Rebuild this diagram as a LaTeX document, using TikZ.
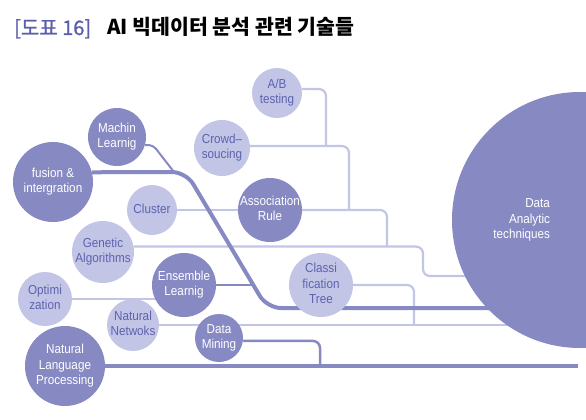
\documentclass[tikz,border=0pt]{standalone}
\usepackage{fontspec}
\setmainfont[FakeStretch=0.9]{Liberation Sans}
\newfontfamily\krfont{Noto Sans CJK KR}
\newfontfamily\krmed[FakeBold=1.2]{Noto Sans CJK KR}
\usetikzlibrary{backgrounds}
\definecolor{dk}{HTML}{8789C3}
\definecolor{lt}{HTML}{C3C5E6}
\definecolor{lttext}{HTML}{5D62AE}
\definecolor{ttl}{HTML}{5B5FAA}
\newcommand\cc[1]{\vbox to 0pt{\vss\hbox to 0pt{\hss\begin{tabular}{@{}c@{}}#1\end{tabular}\hss}\vss}}
\newcommand\rr[1]{\vbox to 0pt{\vss\hbox to 0pt{\hss\begin{tabular}{@{}r@{}}#1\end{tabular}\hskip30pt}\vss}}
\begin{document}
\begin{tikzpicture}[x=1pt,y=-1pt,
  ball/.style={circle,inner sep=0pt,minimum size=#1,font=\fontsize{13}{15.5}\selectfont},
  dball/.style={ball=#1,fill=dk,text=white},
  lball/.style={ball=#1,fill=lt,text=lttext},
  lline/.style={draw=lt,line width=2.2pt},
  dline/.style={draw=dk,line width=2pt},
  dmline/.style={draw=dk,line width=2.5pt},
  nlpline/.style={draw=dk,line width=3.5pt},
  mainline/.style={draw=dk,line width=4pt}
]
\useasboundingbox (0,0) rectangle (586,420);

% title
\node[font=\krmed\fontsize{20}{22}\selectfont,anchor=base west,inner sep=0pt,text=ttl] (t1) at (14,35) {[도표 16]};
\node[font=\krfont\bfseries\fontsize{20.5}{22}\selectfont,anchor=base west,inner sep=0pt,text=black] (t2) at (107,35) {AI 빅데이터 분석 관련 기술들};

% circles
\node[lball=50pt] (ab) at (277,93) {\cc{A/B\\testing}};
\node[lball=56pt] (cr) at (222,148) {\cc{Crowd–\\soucing}};
\node[dball=58pt] (ml) at (117,137) {\cc{Machin\\Learnig}};
\node[dball=80pt] (fu) at (53,182) {\cc{fusion \&\\intergration}};
\node[lball=50pt] (cl) at (152,210) {\cc{Cluster}};
\node[dball=64pt] (ar) at (270,210) {\cc{Association\\Rule}};
\node[lball=62pt] (ga) at (103,252) {\cc{Genetic\\Algorithms}};
\node[dball=64pt] (en) at (184,285) {\cc{Ensemble\\Learnig}};
\node[lball=54pt] (op) at (45,299) {\cc{Optimi\\zation}};
\node[lball=52pt] (nn) at (133,325) {\cc{Natural\\Netwoks}};
\node[dball=48pt] (dm) at (219,338) {\cc{Data\\Mining}};
\node[dball=80pt] (nlp) at (65,366) {\cc{Natural\\Language\\Processing}};
\node[lball=64pt] (ct) at (321,285) {\cc{Classi\\fication\\Tree}};
\node[dball=256pt] (da) at (580,220) {\rr{Data\\Analytic\\techniques}};

% junctions
\coordinate (jab) at (326,146);
\coordinate (jcr) at (349,210);
\coordinate (jar) at (387,247);
\coordinate (gc) at (423,276);
\coordinate (gend) at (500,276);
\coordinate (jct) at (414,325);
\coordinate (nnend) at (520,325);
\coordinate (jen) at (253,285);
\coordinate (jdm) at (320,366);
\coordinate (nlpend) at (578,366);
\coordinate (c1) at (186,172);
\coordinate (c2) at (267,308);
\coordinate (thend) at (520,308);
\coordinate (mlc) at (153,145);
\coordinate (jml) at (174,172);

\begin{scope}[on background layer]
  \begin{scope}[rounded corners=7pt]
    \draw[lline] (ab.9) -| (jab);
    \draw[lline] (cr.4) -| (jcr);
    \draw[lline] (cl.east) -- (ar.west);
    \draw[lline] (ar.east) -| (jar);
    \draw[lline] (ga.10) -| (gc) -- (gend);
    \draw[lline] (ct.east) -| (jct);
    \draw[lline] (nn.east) -- (nnend);
    \draw[lline] (op.east) -- (op.east -| en.center);
    \draw[dline] (en.east) -- (jen);
    \draw[dmline] (dm.-7) -| (jdm);
    \draw[nlpline] (nlp.east) -- (nlpend);
  \end{scope}
  \draw[mainline,rounded corners=14pt] (fu.14) -- (c1) -- (c2) -- (thend);
  \draw[dline,rounded corners=5pt] (ml.-16) -- (mlc) -- (jml);
\end{scope}
\end{tikzpicture}
\end{document}
